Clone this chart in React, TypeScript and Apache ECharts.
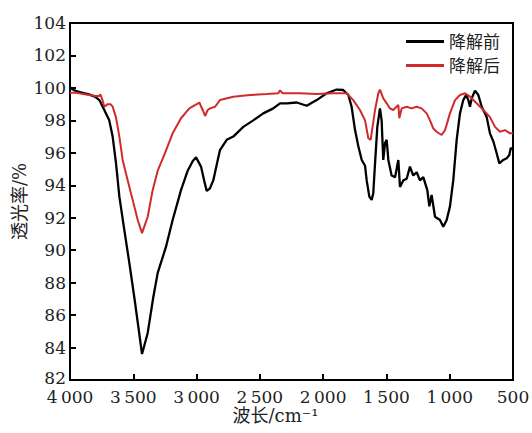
import React, { useEffect, useRef } from "react";
import * as echarts from "echarts";

// 降解前 (before degradation)
const beforeWave = [
  4000, 3950, 3900, 3850, 3800, 3768, 3729, 3690, 3663, 3637, 3610, 3571, 3531, 3492, 3457, 3431,
  3386, 3342, 3307, 3242, 3189, 3123, 3070, 3030, 3004, 2965, 2940, 2920, 2895, 2868, 2840, 2815,
  2762, 2710, 2631, 2552, 2473, 2394, 2341, 2288, 2209, 2130, 2051, 1972, 1893, 1841, 1801, 1775,
  1748, 1722, 1695, 1669, 1656, 1635, 1617, 1604, 1590, 1572, 1551, 1538, 1525, 1511, 1498, 1485,
  1459, 1432, 1406, 1393, 1367, 1340, 1314, 1288, 1261, 1235, 1209, 1177, 1161, 1143, 1116, 1077,
  1051, 1024, 998, 972, 945, 919, 893, 871, 853, 840, 826, 800, 774, 747, 708, 682, 655, 629, 608,
  577, 550, 529, 518, 500,
];
const beforeTrans = [
  100.0, 99.8, 99.7, 99.6, 99.45, 99.25, 98.64, 98.0, 97.0, 95.4, 93.3, 91.25, 89.2, 87.1, 85.1, 83.6,
  84.9, 87.1, 88.6, 90.2, 91.86, 93.7, 94.9, 95.5, 95.72, 95.15, 94.3, 93.65, 93.8, 94.3, 95.3, 96.17,
  96.8, 97.0, 97.6, 98.0, 98.43, 98.74, 99.05, 99.05, 99.1, 98.9, 99.25, 99.67, 99.9, 99.87, 99.56, 98.84,
  97.4, 96.4, 95.56, 95.2, 94.3, 93.3, 93.1, 93.5, 95.35, 97.6, 98.74, 98.0, 95.56, 96.6, 96.8, 95.56,
  94.6, 94.5, 95.56, 93.9, 94.3, 94.4, 95.15, 94.6, 94.8, 94.3, 94.5, 93.7, 92.7, 93.4, 92.06, 91.86,
  91.45, 91.86, 92.7, 94.3, 96.8, 98.43, 99.25, 99.56, 99.25, 98.84, 99.36, 99.83, 99.56, 98.84, 98.2, 97.2, 96.7, 95.97, 95.35,
  95.56, 95.66, 95.87, 96.3, 96.2,
];

// 降解后 (after degradation)
const afterWave = [
  4000, 3950, 3874, 3800, 3768, 3760, 3745, 3729, 3702, 3680, 3663, 3637, 3610, 3584, 3544, 3505,
  3465, 3431, 3386, 3347, 3307, 3255, 3189, 3123, 3057, 2978, 2952, 2933, 2912, 2894, 2854, 2815,
  2710, 2578, 2446, 2354, 2341, 2320, 2183, 2051, 1920, 1814, 1762, 1709, 1669, 1643, 1625, 1617,
  1590, 1564, 1551, 1525, 1498, 1472, 1446, 1406, 1398, 1379, 1340, 1301, 1261, 1222, 1182, 1156,
  1130, 1103, 1064, 1037, 998, 958, 919, 879, 840, 787, 734, 682, 642, 603, 563, 524, 500,
];
const afterTrans = [
  99.7, 99.7, 99.6, 99.5, 99.5, 99.6, 99.3, 98.84, 99.0, 99.0, 98.84, 98.2, 97.0, 95.56, 94.3, 93.1,
  91.86, 91.05, 92.06, 93.7, 94.9, 95.87, 97.2, 98.13, 98.74, 99.1, 98.64, 98.27, 98.64, 98.74, 98.84, 99.25,
  99.46, 99.56, 99.62, 99.67, 99.85, 99.67, 99.67, 99.62, 99.67, 99.67, 99.25, 98.64, 98.0, 96.9, 96.8, 97.2,
  98.64, 99.67, 99.9, 99.36, 99.05, 98.74, 98.64, 98.95, 98.13, 98.74, 98.84, 98.74, 98.84, 98.74, 98.43, 98.0,
  97.5, 97.3, 97.1, 97.4, 98.43, 99.25, 99.56, 99.67, 99.46, 99.05, 98.64, 98.2, 97.6, 97.3, 97.4, 97.2, 97.2,
];

const seriesNames = ["降解前", "降解后"];
const seriesColors = ["#000000", "#d02b2b"];

const serif = "DejaVu Serif";
const cjk = "DejaVu Serif, Noto Sans CJK SC";

function fmtX(v: number): string {
  if (v >= 1000) {
    const th = Math.floor(v / 1000);
    const rest = String(v % 1000).padStart(3, "0");
    return th + "\u2009" + rest;
  }
  return String(v);
}

function fmtY(v: number): string {
  return v === 82 ? "{low|82}" : String(v);
}

export default function App() {
  const ref = useRef<HTMLDivElement>(null);
  useEffect(() => {
    if (!ref.current) return;
    const chart = echarts.init(ref.current, undefined, { renderer: "svg" });
    const before = beforeWave.map((w, i) => [w, beforeTrans[i]]);
    const after = afterWave.map((w, i) => [w, afterTrans[i]]);
    chart.setOption({
      animation: false,
      backgroundColor: "#ffffff",
      grid: {
        left: 70,
        right: 19,
        top: 23,
        bottom: 53,
        show: true,
        borderColor: "#000",
        borderWidth: 2,
        containLabel: false,
        outerBoundsMode: "none",
      },
      legend: {
        orient: "vertical",
        right: 27,
        top: 28,
        itemWidth: 38,
        itemHeight: 3,
        itemGap: 7,
        icon: "rect",
        data: seriesNames,
        textStyle: { fontFamily: cjk, fontSize: 17, color: "#222", lineHeight: 17 },
      },
      xAxis: {
        type: "value",
        min: 500,
        max: 4000,
        interval: 500,
        inverse: true,
        name: "波长/cm⁻¹",
        nameLocation: "middle",
        nameGap: 26,
        nameMoveOverlap: false,
        nameTextStyle: { fontFamily: cjk, fontSize: 18, color: "#222", padding: [0, 32, 0, 0] },
        axisLine: { show: true, lineStyle: { color: "#000", width: 2 } },
        axisTick: { show: true, inside: true, length: 6, lineStyle: { color: "#000", width: 2 } },
        axisLabel: { fontFamily: serif, fontSize: 17, lineHeight: 14, color: "#222", margin: 10, formatter: fmtX },
        splitLine: { show: false },
      },
      yAxis: {
        type: "value",
        min: 82,
        max: 104,
        interval: 2,
        name: "透光率/%",
        nameLocation: "middle",
        nameGap: 42,
        nameMoveOverlap: false,
        nameTextStyle: { fontFamily: cjk, fontSize: 18, color: "#222" },
        axisLine: { show: true, lineStyle: { color: "#000", width: 2 } },
        axisTick: { show: true, inside: true, length: 6, lineStyle: { color: "#000", width: 2 } },
        axisLabel: {
          fontFamily: serif,
          fontSize: 17,
          lineHeight: 14,
          color: "#222",
          margin: 4,
          formatter: fmtY,
          rich: {
            low: { fontFamily: serif, fontSize: 17, lineHeight: 14, color: "#222", padding: [0, 0, 4, 0] },
          },
        },
        splitLine: { show: false },
      },
      series: [
        {
          name: seriesNames[0],
          type: "line",
          data: before,
          symbol: "none",
          smooth: false,
          lineStyle: { color: seriesColors[0], width: 2.3 },
          itemStyle: { color: seriesColors[0] },
          z: 2,
        },
        {
          name: seriesNames[1],
          type: "line",
          data: after,
          symbol: "none",
          smooth: false,
          lineStyle: { color: seriesColors[1], width: 2 },
          itemStyle: { color: seriesColors[1] },
          z: 3,
        },
      ],
    });
    return () => chart.dispose();
  }, []);
  return (
    <div
      ref={ref}
      style={{ position: "fixed", left: 0, top: 0, width: 532, height: 433, background: "#fff" }}
    />
  );
}
